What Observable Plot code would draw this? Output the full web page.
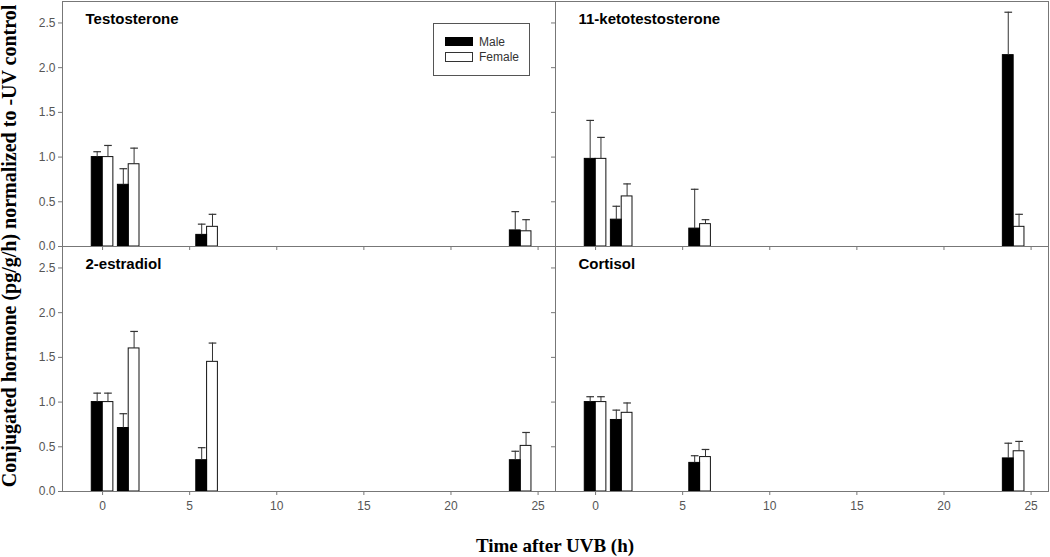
<!DOCTYPE html>
<html>
<head>
<meta charset="utf-8">
<script src="https://cdn.jsdelivr.net/npm/d3@7"></script>
<script src="https://cdn.jsdelivr.net/npm/@observablehq/plot@0.6"></script>
<style>
  body { margin: 0; background: #fff; }
  #wrap { position: relative; width: 1050px; height: 557px; }
  #legend { position: absolute; left: 433px; top: 23px; width: 97px; height: 53px;
    border: 1px solid #555; background: #fff; box-sizing: border-box;
    font: 12px "Liberation Sans", Arial, sans-serif; color: #333; }
  #legend .sw { position: absolute; left: 11px; width: 28px; box-sizing: border-box; }
  #legend .male { top: 13px; height: 9px; background: #000; }
  #legend .female { top: 28px; height: 10px; background: #fff; border: 1px solid #333; }
  #legend .lab { position: absolute; left: 45px; line-height: 12px; white-space: nowrap; }
  g[aria-label="panel-title"] text { letter-spacing: 1px; }
</style>
</head>
<body>
<div id="wrap"><div id="chart"></div>
  <div id="legend">
    <span class="sw male"></span><span class="lab" style="top:12px">Male</span>
    <span class="sw female"></span><span class="lab" style="top:27px">Female</span>
  </div>
</div>
<script>
// ---- data ----
const hormones = ["Testosterone", "11-ketotestosterone", "2-estradiol", "Cortisol"];
const times = [0, 1.5, 6, 24];           // hours after UVB
const xTicks = [0, 5, 10, 15, 20, 25];
const yTicks = [0, 0.5, 1.0, 1.5, 2.0, 2.5];

// mean values (normalized to -UV control) and upper error (SE)
const testosteroneMale      = [1.00, 0.69, 0.13, 0.18];
const testosteroneMaleErr   = [0.06, 0.18, 0.12, 0.21];
const testosteroneFemale    = [1.00, 0.92, 0.22, 0.17];
const testosteroneFemaleErr = [0.13, 0.18, 0.14, 0.13];

const ketoMale      = [0.98, 0.30, 0.20, 2.14];
const ketoMaleErr   = [0.43, 0.15, 0.44, 0.48];
const ketoFemale    = [0.98, 0.56, 0.25, 0.22];
const ketoFemaleErr = [0.24, 0.14, 0.05, 0.14];

const estradiolMale      = [1.00, 0.71, 0.35, 0.35];
const estradiolMaleErr   = [0.10, 0.16, 0.14, 0.10];
const estradiolFemale    = [1.00, 1.60, 1.45, 0.51];
const estradiolFemaleErr = [0.10, 0.19, 0.21, 0.15];

const cortisolMale      = [1.00, 0.80, 0.32, 0.37];
const cortisolMaleErr   = [0.06, 0.11, 0.08, 0.17];
const cortisolFemale    = [1.00, 0.88, 0.385, 0.45];
const cortisolFemaleErr = [0.06, 0.11, 0.085, 0.11];

const series = [
  [testosteroneMale, testosteroneMaleErr, testosteroneFemale, testosteroneFemaleErr],
  [ketoMale, ketoMaleErr, ketoFemale, ketoFemaleErr],
  [estradiolMale, estradiolMaleErr, estradiolFemale, estradiolFemaleErr],
  [cortisolMale, cortisolMaleErr, cortisolFemale, cortisolFemaleErr]
];

// ---- table ----
const table = [];
hormones.forEach((h, i) => {
  const [m, me, f, fe] = series[i];
  times.forEach((t, j) => {
    table.push({hormone: h, col: i % 2, row: Math.floor(i / 2), time: t, sex: "Male", mean: m[j], err: me[j]});
    table.push({hormone: h, col: i % 2, row: Math.floor(i / 2), time: t, sex: "Female", mean: f[j], err: fe[j]});
  });
});
const titles = hormones.map((h, i) => ({hormone: h, col: i % 2, row: Math.floor(i / 2)}));

const bw = 0.62;   // bar width in hours
const cw = 0.22;   // half cap width in hours
const barX1 = d => d.sex === "Male" ? d.time - bw : d.time;
const barX2 = d => d.sex === "Male" ? d.time : d.time + bw;
const barXc = d => d.sex === "Male" ? d.time - bw / 2 : d.time + bw / 2;
const upper = d => d.mean + d.err;

const males = table.filter(d => d.sex === "Male");
const females = table.filter(d => d.sex === "Female");

const chart = Plot.plot({
  width: 1050,
  height: 557,
  marginLeft: 62,
  marginRight: 2,
  marginTop: 0,
  marginBottom: 66,
  style: {fontFamily: "'Liberation Sans', Arial, sans-serif", fontSize: "12px", color: "#555", background: "#fff", overflow: "visible"},
  x: {domain: [-2.3, 26.0], label: null},
  y: {domain: [0, 2.74], label: null},
  fx: {domain: [0, 1], padding: 0, axis: null, label: null},
  fy: {domain: [0, 1], padding: 0, axis: null, label: null},
  marks: [
    Plot.rect(females, {fx: "col", fy: "row", x1: barX1, x2: barX2, y1: d => 0, y2: "mean", fill: "#fff", stroke: "#111", strokeWidth: 1}),
    Plot.rect(males, {fx: "col", fy: "row", x1: barX1, x2: barX2, y1: d => 0, y2: "mean", fill: "#000", stroke: "#000", strokeWidth: 1}),
    Plot.ruleX(table, {fx: "col", fy: "row", x: barXc, y1: "mean", y2: upper, stroke: "#333", strokeWidth: 1}),
    Plot.link(table, {fx: "col", fy: "row", x1: d => barXc(d) - cw, x2: d => barXc(d) + cw, y1: upper, y2: upper, stroke: "#333", strokeWidth: 1.2}),
    Plot.frame({stroke: "#777", strokeWidth: 1}),
    Plot.axisY({ticks: yTicks, tickFormat: d3.format(".1f"), tickSize: 4, tickPadding: 3, label: null, stroke: "#777", fill: "#555"}),
    Plot.axisY({ticks: yTicks, tickFormat: () => "", tickSize: 4, label: null, stroke: "#777", facetAnchor: "right"}),
    Plot.axisX({ticks: xTicks, tickFormat: d => String(d), tickSize: 4, tickPadding: 6, label: null, stroke: "#777", fill: "#555"}),
    Plot.axisX({ticks: xTicks, tickFormat: () => "", tickSize: 4, label: null, stroke: "#777", facetAnchor: "top"}),
    Plot.text(titles, {fx: "col", fy: "row", text: "hormone", frameAnchor: "top-left", dx: 23, dy: 12,
      fontWeight: "bold", fontSize: 15, fill: "#000", ariaLabel: "panel-title"})
  ]
});

const svg = d3.select(chart);
svg.append("text")
  .attr("x", 555).attr("y", 552)
  .attr("text-anchor", "middle")
  .style("font-family", "'Liberation Serif', 'Times New Roman', serif")
  .style("font-weight", "bold").style("font-size", "19px").attr("fill", "#000")
  .text("Time after UVB (h)");
svg.append("text")
  .attr("transform", "translate(16,246) rotate(-90)")
  .attr("text-anchor", "middle")
  .style("font-family", "'Liberation Serif', 'Times New Roman', serif")
  .style("font-weight", "bold").style("font-size", "20px").attr("fill", "#000")
  .text("Conjugated hormone (pg/g/h) normalized to -UV control");

document.getElementById("chart").appendChild(chart);
</script>
</body>
</html>
